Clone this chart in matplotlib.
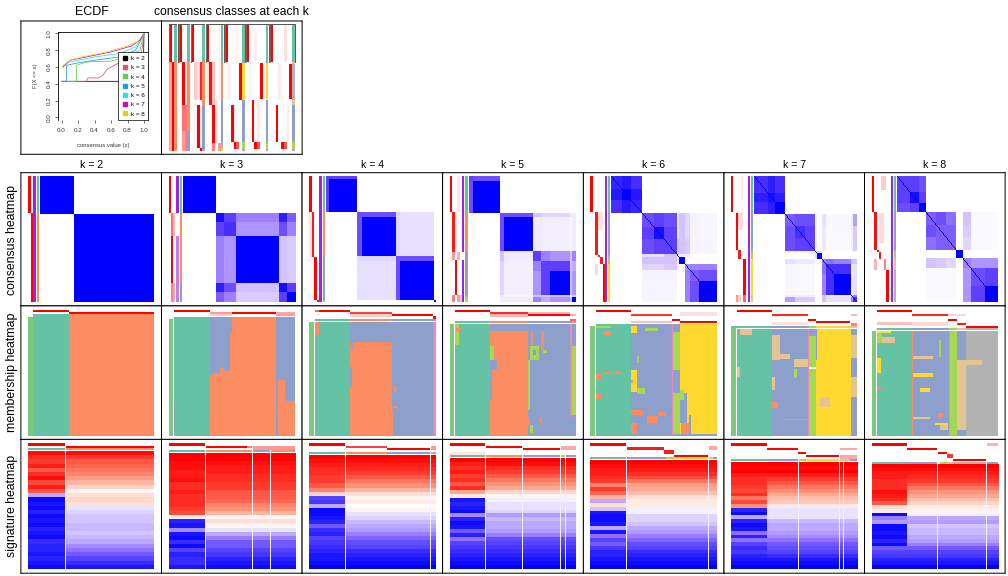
import numpy as np
import matplotlib
matplotlib.use("Agg")
import matplotlib.pyplot as plt
from matplotlib.colors import LinearSegmentedColormap, to_rgb
from matplotlib.patches import Rectangle
from matplotlib.lines import Line2D

W, H = 1008, 576
plt.rcParams['font.family'] = ['Liberation Sans', 'DejaVu Sans']

KS = [2, 3, 4, 5, 6, 7, 8]
COL_X = [20.9, 161.5, 302.1, 442.6, 583.4, 724.0, 864.5, 1005.1]
ROW_Y = [172.7, 305.9, 439.4, 573.2]
ROW_NAMES = ["consensus heatmap", "membership heatmap", "signature heatmap"]
COLS = dict(G="#66C2A5", O="#FC8D62", B="#8DA0CB", P="#E78AC3", L="#A6D854",
            Y="#FFD92F", T="#E5C494", K="#B3B3B3", S="#7FC97F", W="#FFFFFF",
            V="#A020F0", Q="#C77BF0", R="#FF0000")

# ---------------- ECDF curves
ECDF_COLORS = ["black", "#DF536B", "#61D04F", "#2297E6", "#28E2E5", "#CD0BBC", "#F5C710"]
ECDF_X = {2: [0, .99, 1], 3: [0, .3, .32, .45, .5, .55, .6, .7, .8, .9, .97, 1],
          4: [.0, .18, .18, .3, .6, .8, .95, 1], 5: [0, .06, .06, .2, .4, .7, .9, 1],
          6: [.02, .02, .1, .4, .7, .9, 1], 7: [.02, .1, .3, .6, .85, .95, 1],
          8: [.01, .1, .25, .55, .8, .92, 1]}
ECDF_Y = {2: [.43, .43, 1], 3: [.43, .43, .47, .47, .5, .57, .6, .65, .68, .72, .77, 1],
          4: [.43, .43, .62, .66, .67, .72, .8, 1], 5: [.43, .43, .62, .65, .68, .72, .8, 1],
          6: [.6, .62, .66, .72, .76, .84, 1], 7: [.6, .68, .72, .78, .85, .92, 1],
          8: [.61, .68, .72, .78, .85, .9, 1]}
ECDF_TICKS = [0, .2, .4, .6, .8, 1]

# ---------------- consensus classes panel: (col, y0, y1, red level), class runs
CC_STARTS = {2: 507, 3: 537, 4: 575, 5: 620, 6: 675, 7: 738, 8: 810}
CC_WIDTH = {2: 8, 3: 8.25, 4: 8, 5: 8.33, 6: 8.57, 7: 8.4, 8: 8.33}
CC_RED = {
    2: [(0, 72, 186, 1), (0, 186, 453, .35), (1, 186, 453, 1)],
    3: [(0, 72, 186, 1), (1, 186, 315, 1), (1, 315, 393, .55), (2, 315, 393, .55), (1, 393, 453, .4), (2, 393, 453, .5), (2, 186, 315, .1)],
    4: [(0, 72, 186, 1), (3, 186, 300, .85), (1, 186, 300, .2), (2, 186, 300, .12), (2, 315, 445, 1), (1, 315, 445, .05), (3, 445, 453, 1), (3, 315, 445, .1)],
    5: [(0, 72, 186, 1), (1, 186, 315, .95), (0, 186, 315, .12), (2, 186, 315, .25), (2, 315, 430, 1), (3, 300, 430, .12), (4, 72, 300, .04), (2, 430, 453, .5), (4, 430, 453, .4)],
    6: [(0, 72, 186, 1), (5, 190, 300, 1), (2, 315, 425, 1), (3, 425, 447, 1), (4, 425, 447, .7), (1, 190, 300, .06), (3, 315, 425, .08), (4, 72, 186, .04)],
    7: [(0, 72, 186, 1), (5, 190, 298, 1), (2, 300, 425, 1), (3, 425, 447, 1), (4, 425, 447, .7), (3, 100, 186, .05), (4, 300, 425, .08), (1, 190, 298, .05)],
    8: [(0, 72, 186, 1), (7, 192, 298, 1), (2, 315, 425, 1), (4, 425, 447, 1), (5, 425, 447, .7), (5, 72, 186, .12), (6, 315, 425, .08), (3, 190, 300, .08)],
}
CC_CLASS = {
    2: [("G", 72, 186), ("O", 186, 453)],
    3: [("G", 72, 186), ("O", 186, 393), ("B", 393, 453)],
    4: [("G", 72, 186), ("O", 186, 318), ("B", 318, 447), ("P", 447, 453)],
    5: [("G", 72, 186), ("O", 186, 300), ("B", 300, 430), ("P", 430, 436), ("L", 436, 453)],
    6: [("G", 72, 186), ("B", 186, 190), ("Y", 190, 300), ("B", 300, 425), ("L", 425, 447), ("P", 447, 453)],
    7: [("G", 72, 186), ("B", 186, 190), ("Y", 190, 298), ("B", 300, 425), ("L", 425, 447), ("P", 447, 453)],
    8: [("G", 72, 186), ("T", 186, 192), ("K", 192, 300), ("T", 300, 315), ("B", 315, 425), ("L", 425, 447), ("P", 447, 453)],
}

# ---------------- consensus heatmaps
C_ORG = {2: (0, 160), 3: (0, 160), 4: (300, 160), 5: (300, 160), 6: (580, 160), 7: (580, 160), 8: (580, 160)}
C_BOX = {2: (120, 462), 3: (549, 885), 4: (78, 408), 5: (507, 828), 6: (93, 411), 7: (522, 831), 8: (951, 1254)}
C_SIZES = {2: [101, 241], 3: [99, 24, 36, 126, 24, 27], 4: [9, 84, 15, 102, 12, 102, 6],
           5: [12, 81, 12, 87, 24, 27, 60, 6, 12], 6: [33, 27, 33, 36, 30, 39, 6, 18, 15, 27, 54],
           7: [42, 21, 30, 30, 30, 30, 6, 15, 12, 24, 51, 6, 12], 8: [39, 27, 21, 30, 30, 30, 21, 24, 42, 39]}
C_VALS = {
    2: [[1, 0], [0, 1]],
    3: [[1, 0, 0, 0, 0, 0], [0, .95, .8, .6, .9, .7], [0, .8, .85, .5, .75, .6],
        [0, .6, .5, 1, .3, .25], [0, .9, .75, .3, .95, .8], [0, .7, .6, .25, .8, 1]],
    4: [[.8, .8, 0, 0, 0, 0, 0], [.8, 1, 0, 0, 0, 0, 0], [0, 0, .75, .75, .2, .15, 0], [0, 0, .75, 1, .2, .15, 0],
        [0, 0, .2, .2, .75, .75, 0], [0, 0, .15, .15, .75, 1, 0], [0, 0, 0, 0, 0, 0, 1]],
    5: [[.8, .75, 0, 0, 0, 0, 0, 0, 0], [.75, 1, 0, 0, 0, 0, 0, 0, 0],
        [0, 0, .75, .75, .3, .2, .2, .1, .1], [0, 0, .75, 1, .1, .08, .08, .05, .1],
        [0, 0, .3, .1, .8, .6, .5, .3, .6], [0, 0, .2, .08, .6, .8, .8, .3, .4],
        [0, 0, .2, .08, .5, .8, 1, .3, .5], [0, 0, .1, .05, .3, .3, .3, .1, .3],
        [0, 0, .1, .1, .6, .4, .5, .3, 1]],
    6: [[.88, .92, .85, 0, 0, 0, 0, 0, 0, 0, 0], [.92, 1, .92, 0, 0, 0, 0, 0, 0, 0, 0], [.85, .92, .88, 0, 0, 0, 0, 0, 0, 0, 0],
        [0, 0, 0, .75, .8, .75, .15, .3, .2, .06, .05], [0, 0, 0, .8, .95, .8, .15, .3, .2, .06, .05],
        [0, 0, 0, .75, .8, .8, .3, .3, .25, .06, .05], [0, 0, 0, .15, .15, .3, .1, .1, .1, 0, 0],
        [0, 0, 0, .3, .3, .3, .1, 1, 0, 0, 0], [0, 0, 0, .2, .2, .25, .1, 0, .55, .6, .6],
        [0, 0, 0, .06, .06, .06, 0, 0, .6, .7, .75], [0, 0, 0, .05, .05, .05, 0, 0, .6, .75, 1]],
    7: [[.85, .9, .85, 0, 0, 0, 0, 0, 0, 0, 0, 0, 0], [.9, .95, .9, 0, 0, 0, 0, 0, 0, 0, 0, 0, 0], [.85, .9, 1, 0, 0, 0, 0, 0, 0, 0, 0, 0, 0],
        [0, 0, 0, .7, .75, .75, .05, 0, .15, .04, .04, .1, .45], [0, 0, 0, .75, .85, .8, .05, 0, .12, .03, .03, .08, .25],
        [0, 0, 0, .75, .8, .8, .05, 0, .12, .03, .03, .08, .25], [0, 0, 0, .05, .05, .05, .1, .2, 0, 0, 0, 0, 0],
        [0, 0, 0, 0, 0, 0, .2, 1, 0, 0, 0, 0, 0], [0, 0, 0, .15, .12, .12, 0, 0, .6, .65, .6, .3, .3],
        [0, 0, 0, .04, .03, .03, 0, 0, .65, .85, .85, .1, .15], [0, 0, 0, .04, .03, .03, 0, 0, .6, .85, 1, .1, .15],
        [0, 0, 0, .1, .08, .08, 0, 0, .3, .1, .1, .2, .6], [0, 0, 0, .45, .25, .25, 0, 0, .3, .15, .15, .6, .85]],
    8: [[.8, .8, .75, 0, 0, 0, 0, 0, 0, 0], [.8, .95, .8, 0, 0, 0, 0, 0, 0, 0], [.75, .8, 1, 0, 0, 0, 0, 0, 0, 0],
        [0, 0, 0, .7, .75, .65, 0, .3, .03, .03], [0, 0, 0, .75, .7, .7, 0, .25, .03, .03], [0, 0, 0, .65, .7, .7, 0, .2, .03, .03],
        [0, 0, 0, 0, 0, 0, 1, 0, 0, 0], [0, 0, 0, .3, .25, .2, 0, .6, .5, .5], [0, 0, 0, .03, .03, .03, 0, .5, .75, .8],
        [0, 0, 0, .03, .03, .03, 0, .5, .8, 1]],
}
C_STRIP = {2: (84, 8), 3: (507, 6), 4: (27, 7.5), 5: (450, 7.2), 6: (30, 7.5), 7: (453, 7.3), 8: (876, 7.1)}
C_SIL = {2: (99, 108), 3: (528, 537), 4: (57, 66), 5: (486, 492), 6: (75, 81), 7: (504, 510), 8: (933, 939)}
C_CLS = {2: (111, 117), 3: (540, 546), 4: (68, 76), 5: (495, 504), 6: (84, 90), 7: (513, 519), 8: (942, 948)}
C_RED = {
    2: [(0, 48, 158, 1), (1, 158, 426, 1)],
    3: [(0, 48, 160, 1), (1, 48, 52, .2), (1, 160, 228, .55), (2, 160, 228, .3), (1, 228, 370, 1),
        (1, 370, 426, .5), (2, 370, 426, .35)],
    4: [(0, 48, 157, 1), (1, 157, 290, .9), (0, 157, 290, .1), (2, 290, 420, 1), (1, 290, 420, .05), (3, 420, 426, 1)],
    5: [(0, 48, 157, 1), (1, 157, 275, .9), (2, 157, 275, .1), (3, 48, 157, .1), (1, 275, 300, .4), (3, 275, 300, .3),
        (2, 300, 405, 1), (1, 405, 426, .5), (3, 405, 426, .4), (4, 405, 426, .2)],
    6: [(0, 48, 157, 1), (2, 157, 285, .9), (3, 157, 210, .12), (4, 157, 210, .12), (3, 285, 290, .9), (4, 290, 312, .9),
        (2, 312, 345, .15), (5, 312, 426, 1)],
    7: [(0, 48, 157, 1), (4, 48, 120, .08), (2, 160, 270, 1), (3, 160, 210, .15), (4, 160, 210, .15), (3, 270, 297, .9),
        (5, 297, 405, 1), (2, 405, 426, .4), (3, 405, 426, .2), (5, 405, 426, .6)],
    8: [(0, 48, 157, 1), (4, 48, 90, .2), (5, 48, 90, .2), (1, 157, 270, .95), (3, 160, 250, .15), (4, 160, 250, .15),
        (2, 270, 276, 1), (3, 276, 297, .9), (1, 297, 330, .3), (5, 297, 330, .5), (6, 330, 426, 1)],
}
C_SILV = {2: [(48, 426, "V")], 3: [(48, 160, "V"), (160, 228, "W"), (228, 370, "Q"), (370, 426, "Q")],
          4: [(48, 426, "V")], 5: [(48, 275, "V"), (275, 300, "W"), (300, 426, "V")], 6: [(48, 426, "V")],
          7: [(48, 426, "V")], 8: [(48, 426, "V")]}
C_CLASS = {
    2: [("G", 48, 158), ("O", 158, 426)], 3: [("G", 48, 160), ("O", 160, 370), ("B", 370, 426)],
    4: [("G", 48, 157), ("O", 157, 288), ("B", 288, 420), ("P", 420, 426)],
    5: [("G", 48, 157), ("O", 157, 275), ("B", 275, 405), ("P", 405, 412), ("L", 412, 426)],
    6: [("G", 48, 157), ("B", 157, 285), ("P", 285, 292), ("L", 292, 312), ("Y", 312, 426)],
    7: [("G", 48, 157), ("B", 157, 270), ("P", 270, 276), ("L", 276, 297), ("Y", 297, 405), ("T", 405, 426)],
    8: [("G", 48, 157), ("B", 157, 270), ("P", 270, 276), ("L", 276, 297), ("T", 297, 330), ("K", 330, 426)],
}

# ---------------- membership heatmaps: (letter, x0, x1, y0, y1) painted in order
M_ORG = {2: (0, 300), 3: (0, 300), 4: (300, 300), 5: (300, 300), 6: (580, 300), 7: (580, 300), 8: (580, 300)}
M_CELLS = {
    2: [("S", 84, 99, 51, 408), ("G", 99, 207, 42, 408), ("O", 207, 462, 42, 408)],
    3: [("S", 507, 519, 57, 408), ("G", 522, 630, 51, 408), ("B", 522, 525, 303, 408), ("B", 630, 696, 51, 225), ("O", 630, 696, 225, 408),
        ("O", 660, 672, 205, 225), ("O", 672, 690, 212, 225), ("O", 690, 696, 100, 225), ("O", 640, 660, 218, 225), ("O", 696, 828, 51, 408),
        ("B", 828, 885, 51, 408), ("O", 834, 858, 240, 408), ("O", 858, 885, 303, 408), ("B", 855, 858, 240, 295), ("B", 630, 637, 205, 225)],
    4: [("S", 27, 42, 66, 408), ("G", 45, 150, 57, 408), ("O", 45, 57, 66, 105), ("B", 150, 400, 66, 408), ("O", 150, 276, 126, 408),
        ("O", 150, 276, 57, 63), ("B", 276, 408, 57, 63), ("G", 45, 150, 57, 63), ("P", 400, 408, 66, 408), ("B", 150, 156, 200, 260), ("B", 153, 159, 126, 150),
        ("O", 282, 288, 258, 275), ("O", 279, 291, 318, 324), ("O", 276, 280, 330, 408), ("W", 45, 408, 63, 66)],
    5: [("S", 450, 462, 72, 408), ("G", 465, 570, 63, 408), ("L", 465, 477, 72, 135), ("O", 468, 483, 84, 93), ("B", 570, 684, 63, 93), ("O", 570, 684, 93, 408),
        ("O", 570, 684, 63, 69), ("L", 570, 582, 138, 180), ("B", 570, 591, 180, 210), ("B", 570, 576, 210, 300), ("B", 684, 828, 63, 408),
        ("L", 684, 690, 180, 330), ("L", 690, 717, 138, 180), ("B", 699, 708, 150, 165), ("O", 693, 699, 93, 135), ("O", 723, 732, 93, 150), ("L", 729, 741, 150, 160), ("P", 810, 816, 72, 350),
        ("L", 816, 828, 138, 345), ("O", 684, 690, 350, 375), ("O", 720, 726, 350, 370), ("L", 690, 700, 375, 400), ("O", 815, 828, 63, 69), ("W", 465, 828, 69, 72)],
    6: [("S", 30, 45, 78, 408), ("G", 48, 153, 72, 408), ("B", 153, 276, 72, 408), ("L", 279, 300, 72, 402), ("B", 279, 300, 72, 95), ("B", 279, 300, 210, 280),
        ("P", 276, 279, 72, 408), ("Y", 300, 411, 72, 402), ("L", 48, 93, 78, 84), ("O", 72, 93, 93, 105), ("O", 48, 63, 222, 237), ("O", 72, 96, 216, 222),
        ("O", 100, 124, 216, 222), ("O", 48, 63, 282, 297), ("Y", 153, 171, 78, 100), ("L", 195, 234, 84, 93), ("Y", 153, 172, 210, 276), ("L", 171, 177, 168, 190),
        ("L", 172, 195, 264, 282), ("O", 153, 171, 369, 402), ("O", 201, 234, 348, 369), ("O", 234, 258, 336, 348), ("O", 153, 190, 330, 345),
        ("B", 300, 320, 280, 370), ("O", 303, 327, 369, 402), ("B", 327, 333, 345, 402), ("L", 300, 312, 270, 300), ("B", 280, 411, 402, 408), ("O", 153, 160, 240, 250)],
    7: [("S", 453, 468, 84, 408), ("G", 471, 576, 78, 408), ("W", 471, 831, 84, 87), ("B", 576, 687, 87, 408), ("T", 480, 516, 87, 105), ("O", 495, 505, 105, 108),
        ("T", 576, 600, 105, 180), ("T", 600, 630, 162, 178), ("T", 642, 687, 177, 200), ("L", 642, 651, 207, 234), ("T", 576, 585, 230, 270), ("O", 576, 594, 306, 324),
        ("P", 615, 687, 357, 360), ("P", 684, 687, 87, 408), ("L", 687, 708, 108, 200), ("L", 687, 708, 207, 408), ("B", 687, 708, 87, 108), ("Y", 708, 813, 87, 408),
        ("B", 813, 831, 87, 408), ("T", 813, 831, 105, 175), ("T", 813, 831, 230, 290), ("T", 720, 750, 290, 320), ("T", 471, 480, 200, 230), ("B", 708, 711, 87, 180),
        ("G", 453, 660, 78, 84), ("B", 576, 687, 78, 84), ("L", 687, 708, 78, 84), ("Y", 708, 813, 78, 84), ("T", 813, 831, 78, 84)],
    8: [("S", 876, 888, 93, 408), ("G", 891, 996, 84, 408), ("W", 891, 1254, 90, 93), ("B", 996, 1107, 93, 408), ("K", 1158, 1254, 93, 408), ("P", 1107, 1110, 93, 408),
        ("L", 1110, 1131, 93, 408), ("B", 1131, 1158, 93, 408), ("O", 996, 999, 93, 408), ("Y", 891, 903, 175, 218), ("O", 891, 903, 262, 270), ("Y", 891, 933, 93, 100),
        ("T", 906, 945, 110, 130), ("L", 891, 906, 100, 130), ("T", 1000, 1060, 168, 178), ("T", 1131, 1158, 180, 390), ("T", 1158, 1205, 180, 195),
        ("O", 1075, 1090, 340, 350), ("Y", 1065, 1105, 369, 375), ("T", 1080, 1105, 375, 390), ("Y", 1000, 1060, 218, 230), ("Y", 1020, 1050, 265, 275),
        ("T", 1000, 1050, 350, 358), ("L", 1078, 1084, 120, 170), ("G", 891, 996, 84, 90), ("B", 996, 1107, 84, 90), ("L", 1107, 1131, 84, 90), ("T", 1131, 1158, 84, 90), ("K", 1158, 1254, 84, 90)],
}
M_BARS = {
    2: [(99, 207, 30, 36, 1), (207, 462, 36, 42, 1)],
    3: [(522, 630, 30, 36, 1), (630, 696, 36, 42, .4), (630, 696, 42, 48, .2), (696, 828, 36, 42, 1), (828, 885, 36, 42, .35), (828, 885, 42, 48, .4)],
    4: [(45, 57, 30, 36, .6), (57, 150, 30, 36, 1), (150, 276, 36, 42, .75), (150, 276, 42, 50, .2), (276, 400, 42, 48, 1), (400, 408, 48, 57, 1)],
    5: [(465, 570, 30, 36, 1), (570, 684, 36, 42, .85), (570, 684, 42, 50, .3), (684, 810, 42, 48, 1), (684, 810, 36, 42, .3), (810, 828, 42, 48, .3), (810, 828, 57, 63, .6)],
    6: [(48, 153, 30, 36, 1), (153, 276, 42, 48, .8), (153, 276, 62, 70, .25), (276, 300, 57, 63, 1), (300, 411, 63, 69, 1), (300, 411, 36, 48, .12)],
    7: [(471, 576, 30, 36, 1), (576, 684, 42, 48, .85), (576, 684, 66, 76, .12), (684, 708, 57, 63, 1), (708, 810, 63, 69, 1), (813, 831, 42, 48, .3), (813, 831, 69, 78, .5)],
    8: [(891, 996, 30, 36, 1), (996, 1104, 42, 48, .85), (1104, 1131, 57, 63, 1), (1131, 1158, 69, 75, .9), (1158, 1254, 78, 84, 1), (891, 996, 66, 75, .25),
        (996, 1104, 66, 78, .15), (1104, 1158, 42, 48, .15)],
}

# ---------------- signature heatmaps: row profiles, -1 blue .. +1 red
S_ORG = {2: (0, 430), 3: (0, 430), 4: (300, 430), 5: (300, 430), 6: (580, 430), 7: (580, 430), 8: (580, 430)}
S_BOX = {2: (84, 462, 63, 417), 3: (507, 885, 69, 417), 4: (27, 408, 75, 417), 5: (450, 828, 84, 417),
         6: (30, 411, 90, 417), 7: (453, 831, 96, 417), 8: (876, 1254, 102, 417)}
S_SPLIT = {2: 195, 3: 615, 4: 135, 5: 555, 6: 138, 7: 560, 8: 980}
S_FIRST = {
    2: [.95, .85, .8, .9, .7, .85, .95, .75, .9, .7, -.3, -.95, -.9, -.95, -.85, -.95, -.9, -.95, -.85, -.9, -.95, -.8, -.85, -.85, -.9, -.85, -.9, -.95],
    3: [1, 1, .95, .95, .9, .9, .95, .85, .85, .9, .85, .85, .85, .8, .75, .1, -.85, -.9, -.4, -.9, -.95, -.8, -.95, -.7, -.85, -.8, -.8, -.9],
    4: [1, .95, .9, .85, .85, .8, .8, .7, .55, .2, -.7, -.75, -.3, -.95, -.95, -.9, -.85, -.6, -.8, -.85, -.7, -.75, -.8, -.85, -.9, -.9, -.95, -1],
    5: [1, .9, .85, .9, .8, .85, .7, .85, .4, .1, -.9, -.85, -.9, -.95, -.4, -.85, -.95, -.9, -.6, -.85, -.5, -.7, -.75, -.8, -.85, -.9, -.95, -1],
    6: [1, .95, .9, .9, .85, .8, .55, .8, .65, .35, -.3, .15, -.2, -.9, -.95, -.95, -.9, -.3, -.9, -.5, -.7, -.6, -.75, -.85, -.85, -.9, -.95, -1],
    7: [1, .95, 1, .9, .85, .85, .8, .75, .85, .6, .75, .5, -.85, -.95, -.3, -.85, -.95, -.9, -.5, -.85, -.5, -.7, -.8, -.75, -.85, -.9, -.95, -1],
    8: [1, .95, .9, .9, .85, .85, .85, .95, .9, .85, .7, .15, .1, -.95, -.45, -.35, -.95, -.95, -.9, -.95, -.85, -.95, -.6, -.7, -.75, -.85, -.9, -1],
}
S_REST = {
    2: [.95, .8, .7, .65, .6, .55, .45, .35, .2, .05, .15, .2, .15, -.1, -.15, -.2, -.2, -.25, -.25, -.2, -.25, -.3, -.4, -.5, -.6, -.7, -.8, -.9],
    3: [1, 1, .95, .9, .9, .85, .85, .8, .8, .7, .7, .65, .55, .5, .35, .05, .15, .05, -.1, -.3, -.45, -.6, -.6, -.7, -.75, -.85, -.9, -.95],
    4: [1, .95, .9, .85, .8, .7, .6, .5, .35, .15, .05, .1, 0, .05, -.1, -.15, -.25, -.3, -.35, -.45, -.55, -.65, -.7, -.8, -.85, -.9, -.95, -1],
    5: [1, .95, .85, .8, .7, .6, .5, .4, .2, .05, -.05, -.1, -.1, -.15, -.35, -.25, -.3, -.3, -.35, -.45, -.65, -.7, -.75, -.8, -.85, -.9, -.95, -1],
    6: [1, .95, .9, .85, .75, .6, .45, .4, .3, .15, .1, .1, -.05, -.05, -.15, -.15, -.2, -.3, -.35, -.45, -.55, -.65, -.7, -.8, -.85, -.9, -.95, -1],
    7: [1, .95, 1, .9, .8, .7, .6, .5, .4, .3, .25, .1, -.1, -.1, -.1, -.25, -.3, -.3, -.35, -.4, -.5, -.6, -.65, -.7, -.8, -.9, -.95, -1],
    8: [1, .95, .9, .85, .8, .7, .6, .5, .4, .3, .2, .1, .05, -.05, -.3, -.35, -.2, -.25, -.25, -.3, -.35, -.45, -.6, -.7, -.75, -.85, -.9, -1],
}
S_GAPS = {2: [(195, 198)], 3: [(615, 618), (756, 759), (810, 813)], 4: [(135, 138), (390, 393)],
          5: [(555, 558), (666, 669), (780, 783), (795, 798)], 6: [(138, 141), (384, 387)],
          7: [(654, 657), (777, 780), (789, 792)], 8: [(1071, 1074), (1218, 1221)]}
S_BARS = {
    2: [(84, 195, 39, 48, 1), (198, 462, 48, 54, 1)],
    3: [(507, 615, 39, 48, 1), (618, 740, 48, 54, 1), (740, 756, 48, 54, .5), (759, 885, 48, 60, .4)],
    4: [(27, 135, 39, 48, 1), (138, 260, 48, 54, .75), (260, 390, 54, 60, 1), (393, 408, 48, 60, .4)],
    5: [(450, 555, 39, 48, 1), (558, 666, 48, 54, 1), (669, 780, 54, 60, 1), (783, 828, 48, 60, .35), (450, 555, 66, 75, .1)],
    6: [(30, 138, 39, 48, 1), (141, 252, 51, 60, .9), (252, 282, 60, 72, .9), (282, 384, 75, 81, 1), (387, 411, 48, 60, .35)],
    7: [(453, 560, 39, 48, 1), (560, 654, 54, 60, 1), (654, 678, 66, 72, 1), (678, 777, 75, 81, 1), (780, 831, 54, 60, .35), (780, 831, 76, 86, .35)],
    8: [(876, 980, 39, 48, 1), (980, 1071, 54, 60, 1), (1074, 1100, 66, 72, 1), (1118, 1218, 87, 93, 1), (1221, 1254, 39, 48, .3), (1100, 1118, 72, 84, .8)],
}
S_CLASS = {
    2: [("G", 84, 195, 54, 60), ("O", 198, 462, 54, 60)],
    3: [("G", 507, 615, 60, 66), ("O", 618, 756, 60, 66), ("B", 759, 810, 60, 66), ("O", 813, 880, 60, 66), ("B", 880, 885, 60, 66)],
    4: [("G", 27, 135, 66, 72), ("O", 138, 260, 66, 72), ("B", 260, 390, 66, 72), ("P", 393, 408, 66, 72)],
    5: [("G", 450, 555, 75, 81), ("O", 558, 666, 75, 81), ("B", 669, 780, 75, 81), ("L", 783, 795, 75, 81), ("B", 798, 828, 75, 81)],
    6: [("G", 30, 138, 81, 87), ("B", 141, 258, 81, 87), ("L", 258, 282, 81, 87), ("Y", 282, 384, 81, 87), ("T", 387, 400, 81, 87), ("B", 400, 411, 81, 87)],
    7: [("G", 453, 560, 87, 93), ("B", 560, 654, 87, 93), ("L", 657, 678, 87, 93), ("Y", 678, 777, 87, 93), ("T", 780, 810, 87, 93), ("B", 810, 831, 87, 93)],
    8: [("G", 876, 980, 96, 102), ("B", 980, 1071, 96, 102), ("L", 1080, 1100, 96, 102), ("T", 1100, 1118, 96, 102), ("K", 1118, 1218, 96, 102), ("B", 1221, 1254, 96, 102)],
}

# ---------------- drawing
BLUE_CMAP = LinearSegmentedColormap.from_list("wb", [(0, "#FFFFFF"), (.3, "#D2C2FF"), (.6, "#9C80FF"), (.8, "#5E3EFF"), (1, "#0000FF")])
SIG_CMAP = LinearSegmentedColormap.from_list("brw", [(0, "#0000FF"), (.25, "#8F70FF"), (.5, "#FFFFFF"), (.75, "#FF9478"), (1, "#FF0000")])
fig = plt.figure(figsize=(W / 100, H / 100), dpi=100)


def cell(x0, x1, y0, y1, org=(0, 0)):
    ax = fig.add_axes([x0 / W, 1 - y1 / H, (x1 - x0) / W, (y1 - y0) / H])
    ax.set_xlim((x0 - org[0]) * 3, (x1 - org[0]) * 3)
    ax.set_ylim((y1 - org[1]) * 3, (y0 - org[1]) * 3)
    ax.set_xticks([])
    ax.set_yticks([])
    for s in ax.spines.values():
        s.set_linewidth(0.72)
        s.set_color("black")
        s.set_snap(False)
        s.set_zorder(9)
    return ax


def box(ax, x0, x1, y0, y1, color):
    ax.add_patch(Rectangle((x0, y0), x1 - x0, y1 - y0, fc=color, ec="none", lw=0, antialiased=False))


def red(v):
    return tuple(np.array([1, 1, 1]) * (1 - v) + np.array(to_rgb("#FF0000")) * v)


def show(ax, arr, x0, x1, y0, y1, cmap, vmin, vmax):
    ax.imshow(arr, cmap=cmap, vmin=vmin, vmax=vmax, extent=(x0, x1, y1, y0), aspect="auto", interpolation="nearest")


# top panels
cell(COL_X[0], COL_X[1], 21, 154.3)
cell(COL_X[1], COL_X[2], 21, 154.3)
fig.text(91.5 / W, 1 - 12 / H, "ECDF", ha="center", va="center", fontsize=9)
fig.text(231 / W, 1 - 12 / H, "consensus classes at each k", ha="center", va="center", fontsize=8.7)

ec = fig.add_axes([58.3 / W, 1 - 120 / H, (147.7 - 58.3) / W, (120 - 31.7) / H])
for k, c in zip(KS, ECDF_COLORS):
    ec.plot(ECDF_X[k], ECDF_Y[k], color=c, lw=0.55)
ec.set_xlim(-.04, 1.045)
ec.set_ylim(-.03, 1.02)
ec.spines['bottom'].set_visible(False)
for s in ['top', 'left', 'right']:
    ec.spines[s].set_linewidth(0.6)
ec.set_xticks(ECDF_TICKS)
ec.set_yticks(ECDF_TICKS)
ec.set_xticklabels(["%.1f" % t for t in ECDF_TICKS], fontsize=4.5, color="#333333")
ec.set_yticklabels(["%.1f" % t for t in ECDF_TICKS], fontsize=4.5, rotation=90, va="center", color="#333333")
ec.tick_params(axis="x", length=2.5, width=0.4, pad=3.5)
ec.tick_params(axis="y", length=2.5, width=0.4, pad=2.5)
ec.set_xlabel("consensus value (x)", fontsize=4.2, labelpad=7, color="#333333")
ec.set_ylabel("F(X <= x)", fontsize=4.2, labelpad=6, color="#333333")
hd = [Line2D([], [], ls="none", marker="s", ms=2.4, color=c) for c in ECDF_COLORS]
lg = ec.legend(hd, ["k = %d" % k for k in KS], loc="lower right", bbox_to_anchor=(1.0, 0.0), fontsize=4.5, frameon=True, fancybox=False,
               edgecolor="black", framealpha=1, labelspacing=.62, borderpad=.55, handletextpad=.35, handlelength=1.1, borderaxespad=0)
lg.get_frame().set_linewidth(0.5)

# consensus classes
ccx = fig.add_axes([COL_X[1] / W, 1 - 154.3 / H, (COL_X[2] - COL_X[1]) / W, (154.3 - 21) / H])
ccx.set_axis_off()
ccx.set_xlim(COL_X[1] * 3, COL_X[2] * 3)
ccx.set_ylim(154.3 * 3, 21 * 3)
for k in KS:
    s0 = CC_STARTS[k]
    w = CC_WIDTH[k]
    for col, y0, y1, v in CC_RED[k]:
        box(ccx, s0 + col * w, s0 + (col + 1) * w, y0, y1, red(v))
    for let, y0, y1 in CC_CLASS[k]:
        box(ccx, s0 + k * w, s0 + (k + 1) * w, y0, y1, COLS[let])
    box(ccx, s0 - 1, s0 + (k + 1) * w + 1, 72, 74, "#555555")
    ccx.plot([s0 + (k + 1) * w + 1.5] * 2, [72, 186], color="#555555", lw=.7)
    ccx.plot([s0 - 1] * 2, [72, 186], color="#777777", lw=.5)

for i, k in enumerate(KS):
    x0, x1 = COL_X[i], COL_X[i + 1]
    fig.text((x0 + x1) / 2 / W, 1 - 164.5 / H, "k = %d" % k, ha="center", va="center", fontsize=7.6)
    # row 1
    org = C_ORG[k]
    ax = cell(x0, x1, ROW_Y[0], ROW_Y[1], org)
    lim = (ax.get_xlim(), ax.get_ylim())
    bx0, bx1 = C_BOX[k]
    counts = [max(1, round(s / 3)) for s in C_SIZES[k]]
    mat = np.array(C_VALS[k], dtype=float)
    full = np.repeat(np.repeat(mat, counts, axis=0), counts, axis=1)
    if k >= 6:
        np.fill_diagonal(full, 1)
    show(ax, full, bx0, bx1, 48, 426, BLUE_CMAP, 0, 1)
    sx, sw = C_STRIP[k]
    for col, y0, y1, v in C_RED[k]:
        box(ax, sx + col * sw, sx + (col + 1) * sw, y0, y1, red(v))
    for y0, y1, let in C_SILV[k]:
        box(ax, C_SIL[k][0], C_SIL[k][1], y0, y1, COLS[let])
    for let, y0, y1 in C_CLASS[k]:
        box(ax, C_CLS[k][0], C_CLS[k][1], y0, y1, COLS[let])
    ax.set_xlim(*lim[0])
    ax.set_ylim(*lim[1])
    # row 2
    ax = cell(x0, x1, ROW_Y[1], ROW_Y[2], M_ORG[k])
    for let, a, b, c, d in M_CELLS[k]:
        box(ax, a, b, c, d, COLS[let])
    for a, b, c, d, v in M_BARS[k]:
        box(ax, a, b, c, d, red(v))
    # row 3
    ax = cell(x0, x1, ROW_Y[2], ROW_Y[3], S_ORG[k])
    lim = (ax.get_xlim(), ax.get_ylim())
    sx0, sx1, sy0, sy1 = S_BOX[k]
    sp = S_SPLIT[k]
    show(ax, np.array(S_FIRST[k])[:, None], sx0, sp, sy0, sy1, SIG_CMAP, -1, 1)
    show(ax, np.array(S_REST[k])[:, None], sp, sx1, sy0, sy1, SIG_CMAP, -1, 1)
    ax.set_xlim(*lim[0])
    ax.set_ylim(*lim[1])
    for a, b in S_GAPS[k]:
        box(ax, a, b, sy0, sy1, "#F2F0FF")
    for a, b, c, d, v in S_BARS[k]:
        box(ax, a, b, c, d, red(v))
    for let, a, b, c, d in S_CLASS[k]:
        box(ax, a, b, c, d, COLS[let])

for name, yc in zip(ROW_NAMES, [240, 372.5, 506]):
    fig.text(12.5 / W, 1 - yc / H, name, rotation=90, ha="center", va="center", fontsize=8.8)

fig.savefig("out.png", dpi=100)
